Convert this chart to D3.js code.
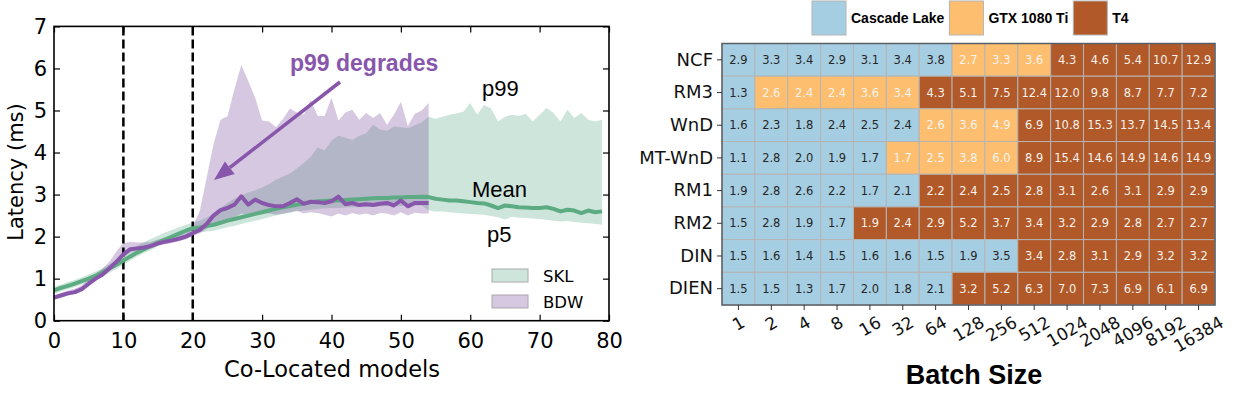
<!DOCTYPE html>
<html>
<head>
<meta charset="utf-8">
<script src="https://cdn.jsdelivr.net/npm/d3@7"></script>
<style>
body{margin:0;background:#fff;}
svg{display:block;}
</style>
</head>
<body>
<svg id="fig" width="1239" height="394"></svg>
<script>
/************************************ Data *******************************/
// left panel: latency vs number of co-located models (index = model count)
var sklMean = [0.72,0.78,0.83,0.88,0.94,1.0,1.07,1.15,1.24,1.33,1.43,1.53,1.62,1.70,1.78,1.86,1.93,2.0,2.07,2.14,
	2.2,2.22,2.25,2.28,2.33,2.38,2.42,2.46,2.5,2.54,2.58,2.62,2.66,2.7,2.73,2.76,2.79,2.82,2.84,2.85,
	2.86,2.86,2.87,2.88,2.89,2.9,2.91,2.92,2.92,2.93,2.93,2.94,2.94,2.95,2.94,2.9,2.88,2.86,2.86,2.84,
	2.82,2.8,2.79,2.74,2.68,2.74,2.72,2.7,2.69,2.68,2.68,2.7,2.66,2.6,2.64,2.62,2.56,2.62,2.58,2.6];
var sklP99 = [0.8,0.86,0.92,0.97,1.03,1.1,1.17,1.25,1.34,1.43,1.53,1.65,1.78,1.87,1.95,2.02,2.1,2.16,2.22,2.28,
	2.33,2.38,2.45,2.55,2.68,2.8,2.9,2.98,3.05,3.1,3.17,3.25,3.35,3.43,3.5,3.62,3.75,3.9,4.12,4.05,
	4.28,4.4,4.35,4.3,4.4,4.46,4.66,4.55,4.52,4.62,4.6,4.58,4.65,4.72,4.85,4.8,4.85,4.9,4.93,4.97,
	5.18,4.9,5.13,5.05,4.74,4.85,4.9,4.87,4.92,4.74,4.9,5.06,4.94,4.74,5.02,4.82,4.94,4.78,4.74,4.78];
var sklP5 = [0.64,0.7,0.75,0.8,0.86,0.92,0.98,1.06,1.14,1.23,1.33,1.43,1.53,1.61,1.69,1.77,1.84,1.91,1.98,2.04,
	2.1,2.1,2.12,2.14,2.18,2.22,2.26,2.3,2.34,2.38,2.42,2.46,2.5,2.54,2.57,2.6,2.62,2.64,2.66,2.67,
	2.68,2.68,2.69,2.7,2.7,2.71,2.72,2.72,2.73,2.73,2.73,2.74,2.74,2.74,2.62,2.6,2.6,2.58,2.57,2.55,
	2.54,2.53,2.52,2.49,2.46,2.41,2.47,2.45,2.44,2.43,2.42,2.4,2.38,2.36,2.37,2.35,2.33,2.32,2.3,2.28];
var bdwMean = [0.55,0.6,0.65,0.68,0.75,0.88,1.0,1.1,1.25,1.4,1.58,1.7,1.72,1.74,1.78,1.84,1.88,1.91,1.95,2.0,
	2.08,2.16,2.3,2.5,2.63,2.68,2.76,2.96,2.76,2.88,2.8,2.75,2.72,2.72,2.8,2.89,2.78,2.83,2.82,2.8,
	2.84,2.95,2.77,2.8,2.75,2.77,2.75,2.78,2.8,2.74,2.86,2.72,2.8,2.8,2.8];
var bdwP99 = [0.6,0.66,0.72,0.76,0.84,0.98,1.12,1.24,1.4,1.65,1.85,1.87,1.86,1.86,1.88,1.93,1.98,2.0,2.03,2.08,
	2.25,2.6,3.4,4.2,4.78,4.86,5.5,6.08,5.7,5.3,4.76,4.74,4.6,4.8,5.05,4.95,4.9,5.25,4.87,4.87,
	5.3,4.76,4.95,5.02,4.78,4.94,4.82,4.94,4.66,4.9,5.21,4.63,4.92,5.0,5.18];
var bdwP5 = [0.5,0.55,0.6,0.63,0.7,0.82,0.95,1.05,1.2,1.33,1.5,1.63,1.66,1.68,1.72,1.78,1.82,1.85,1.89,1.94,
	2.02,2.08,2.18,2.3,2.38,2.42,2.46,2.55,2.5,2.58,2.56,2.55,2.52,2.55,2.58,2.62,2.55,2.58,2.56,2.52,
	2.48,2.55,2.5,2.56,2.52,2.55,2.5,2.56,2.55,2.5,2.58,2.5,2.57,2.55,2.55];
var xTicks = [0,10,20,30,40,50,60,70,80];
var yTicks = [0,1,2,3,4,5,6,7];
var markedCounts = [10,20];

// right panel: latency (ms) per model and batch size, with the fastest platform
var batchSizes = ["1","2","4","8","16","32","64","128","256","512","1024","2048","4096","8192","16384"];
var models = ["NCF","RM3","WnD","MT-WnD","RM1","RM2","DIN","DIEN"];
var platforms = ["Cascade Lake","GTX 1080 Ti","T4"];
var latency = [
	[2.9,3.3,3.4,2.9,3.1,3.4,3.8,2.7,3.3,3.6,4.3,4.6,5.4,10.7,12.9],
	[1.3,2.6,2.4,2.4,3.6,3.4,4.3,5.1,7.5,12.4,12.0,9.8,8.7,7.7,7.2],
	[1.6,2.3,1.8,2.4,2.5,2.4,2.6,3.6,4.9,6.9,10.8,15.3,13.7,14.5,13.4],
	[1.1,2.8,2.0,1.9,1.7,1.7,2.5,3.8,6.0,8.9,15.4,14.6,14.9,14.6,14.9],
	[1.9,2.8,2.6,2.2,1.7,2.1,2.2,2.4,2.5,2.8,3.1,2.6,3.1,2.9,2.9],
	[1.5,2.8,1.9,1.7,1.9,2.4,2.9,5.2,3.7,3.4,3.2,2.9,2.8,2.7,2.7],
	[1.5,1.6,1.4,1.5,1.6,1.6,1.5,1.9,3.5,3.4,2.8,3.1,2.9,3.2,3.2],
	[1.5,1.5,1.3,1.7,2.0,1.8,2.1,3.2,5.2,6.3,7.0,7.3,6.9,6.1,6.9]
];
// 0 = Cascade Lake, 1 = GTX 1080 Ti, 2 = T4
var best = [
	[0,0,0,0,0,0,0,1,1,1,2,2,2,2,2],
	[0,1,1,1,1,1,2,2,2,2,2,2,2,2,2],
	[0,0,0,0,0,0,1,1,1,2,2,2,2,2,2],
	[0,0,0,0,0,1,1,1,1,2,2,2,2,2,2],
	[0,0,0,0,0,0,2,2,2,2,2,2,2,2,2],
	[0,0,0,0,2,2,2,2,2,2,2,2,2,2,2],
	[0,0,0,0,0,0,0,0,0,2,2,2,2,2,2],
	[0,0,0,0,0,0,0,2,2,2,2,2,2,2,2]
];

var svg = d3.select("#fig");

/************************************ Left panel *******************************/
var xL = d3.scaleLinear().domain([0,80]).range([54,609]);
var yL = d3.scaleLinear().domain([0,7]).range([320.7,26.4]);

function band(lo){
	return d3.area()
		.x(function(d,i){ return xL(i); })
		.y0(function(d,i){ return yL(lo[i]); })
		.y1(function(d){ return yL(d); });
}
var line = d3.line().x(function(d,i){ return xL(i); }).y(function(d){ return yL(d); });

svg.append("path").datum(sklP99).attr("d", band(sklP5))
	.attr("fill","#58a884").attr("fill-opacity",0.3);
svg.append("path").datum(bdwP99).attr("d", band(bdwP5))
	.attr("fill","#764898").attr("fill-opacity",0.3);

svg.selectAll("line.vmark").data(markedCounts).enter().append("line")
	.attr("class","vmark")
	.attr("x1",function(d){ return xL(d); }).attr("x2",function(d){ return xL(d); })
	.attr("y1",yL(7)).attr("y2",yL(0))
	.attr("stroke","#000").attr("stroke-width",2.5).attr("stroke-dasharray","9,4");

svg.append("path").datum(sklMean).attr("d", line)
	.attr("fill","none").attr("stroke","#5dab83").attr("stroke-width",4).attr("stroke-linejoin","round");
svg.append("path").datum(bdwMean).attr("d", line)
	.attr("fill","none").attr("stroke","#8856ab").attr("stroke-width",4).attr("stroke-linejoin","round");

// axes, ticks inside
var tickFont = "'DejaVu Sans', sans-serif";
function styleAxis(g){
	g.select(".domain").remove();
	g.selectAll(".tick line").attr("stroke","#000").attr("stroke-width",1.2);
	g.selectAll("text").attr("font-family",tickFont).attr("font-size",21).attr("fill","#000");
}
svg.append("g").attr("transform","translate(0,"+yL(0)+")")
	.call(d3.axisBottom(xL).tickValues(xTicks).tickSize(-6).tickPadding(12)).call(styleAxis);
svg.append("g").attr("transform","translate(0,"+yL(7)+")")
	.call(d3.axisTop(xL).tickValues(xTicks).tickSize(-6).tickFormat("")).call(styleAxis);
svg.append("g").attr("transform","translate("+xL(0)+",0)")
	.call(d3.axisLeft(yL).tickValues(yTicks).tickFormat(d3.format("d")).tickSize(-6).tickPadding(7)).call(styleAxis);
svg.append("g").attr("transform","translate("+xL(80)+",0)")
	.call(d3.axisRight(yL).tickValues(yTicks).tickSize(-6).tickFormat("")).call(styleAxis);
svg.append("rect").attr("x",xL(0)).attr("y",yL(7))
	.attr("width",xL(80)-xL(0)).attr("height",yL(0)-yL(7))
	.attr("fill","none").attr("stroke","#000").attr("stroke-width",1.6);

svg.append("text").attr("x",332).attr("y",377).attr("text-anchor","middle")
	.attr("font-family",tickFont).attr("font-size",22.5).text("Co-Located models");
svg.append("text").attr("transform","translate(23,172) rotate(-90)").attr("text-anchor","middle")
	.attr("font-family",tickFont).attr("font-size",21).text("Latency (ms)");

// annotations
var helv = "'Liberation Sans', Arial, sans-serif";
svg.append("text").attr("x",290).attr("y",71).attr("font-family",helv).attr("font-weight","bold")
	.attr("font-size",23).attr("fill","#8856ab").text("p99 degrades");
var a0 = [340,82], a1 = [214,180];
var ang = Math.atan2(a1[1]-a0[1], a1[0]-a0[0]), hl = 20, hw = 8;
var base = [a1[0]-hl*Math.cos(ang), a1[1]-hl*Math.sin(ang)];
svg.append("line").attr("x1",a0[0]).attr("y1",a0[1]).attr("x2",base[0]).attr("y2",base[1])
	.attr("stroke","#8856ab").attr("stroke-width",3.5);
svg.append("polygon").attr("fill","#8856ab").attr("points",[
	a1,
	[base[0]+hw*Math.sin(ang), base[1]-hw*Math.cos(ang)],
	[base[0]-hw*Math.sin(ang), base[1]+hw*Math.cos(ang)]
].map(function(p){ return p.join(","); }).join(" "));

svg.append("text").attr("x",482).attr("y",96).attr("font-family",helv).attr("font-size",22).text("p99");
svg.append("text").attr("x",472).attr("y",197).attr("font-family",helv).attr("font-size",22).text("Mean");
svg.append("text").attr("x",487).attr("y",242).attr("font-family",helv).attr("font-size",22).text("p5");

// legend
var legL = [["SKL","#58a884"],["BDW","#764898"]];
var lg = svg.selectAll("g.legL").data(legL).enter().append("g").attr("class","legL")
	.attr("transform",function(d,i){ return "translate(492,"+(269+i*26)+")"; });
lg.append("rect").attr("width",36).attr("height",13)
	.attr("fill",function(d){ return d[1]; }).attr("fill-opacity",0.3)
	.attr("stroke","#aaa").attr("stroke-width",1);
lg.append("text").attr("x",51).attr("y",12.5).attr("font-family",tickFont).attr("font-size",16.5)
	.text(function(d){ return d[0]; });

/************************************ Right panel *******************************/
var xH = d3.scaleBand().domain(batchSizes).range([722,1215]);
var yH = d3.scaleBand().domain(models).range([43.5,305]);
var colH = d3.scaleOrdinal().domain([0,1,2]).range(["#a6cee3","#fdbf6f","#b15928"]);

var cells = [];
models.forEach(function(m,r){
	batchSizes.forEach(function(b,c){
		cells.push({model:m, batch:b, v:latency[r][c], p:best[r][c]});
	});
});

svg.selectAll("rect.cell").data(cells).enter().append("rect").attr("class","cell")
	.attr("x",function(d){ return xH(d.batch); }).attr("y",function(d){ return yH(d.model); })
	.attr("width",xH.bandwidth()).attr("height",yH.bandwidth())
	.attr("fill",function(d){ return colH(d.p); })
	.attr("stroke","#b4b4b4").attr("stroke-width",1);
svg.selectAll("text.cell").data(cells).enter().append("text").attr("class","cell")
	.attr("x",function(d){ return xH(d.batch)+xH.bandwidth()/2; })
	.attr("y",function(d){ return yH(d.model)+yH.bandwidth()/2; })
	.attr("dy","0.36em").attr("text-anchor","middle")
	.attr("font-family",tickFont).attr("font-size",11.5)
	.attr("fill",function(d){ return d.p===0 ? "#262626" : "#f6f1ec"; })
	.text(function(d){ return d.v.toFixed(1); });
svg.append("rect").attr("x",722).attr("y",43.5).attr("width",1215-722).attr("height",305-43.5)
	.attr("fill","none").attr("stroke","#5a5f66").attr("stroke-width",1.5);

// row labels
var gy = svg.append("g").attr("transform","translate(722,0)")
	.call(d3.axisLeft(yH).tickSize(5).tickPadding(4));
gy.select(".domain").remove();
gy.selectAll(".tick line").attr("stroke","#333").attr("stroke-width",1);
gy.selectAll("text").attr("font-family",tickFont).attr("font-size",18).attr("fill","#111");

// column labels, rotated, box top-aligned under each tick
var gxH = svg.append("g").attr("transform","translate(0,305)")
	.call(d3.axisBottom(xH).tickSize(5).tickFormat(""));
gxH.select(".domain").remove();
gxH.selectAll(".tick line").attr("stroke","#333").attr("stroke-width",1);
var xl = svg.selectAll("text.xlab").data(batchSizes).enter().append("text").attr("class","xlab")
	.attr("font-family",tickFont).attr("font-size",17).attr("fill","#111")
	.attr("text-anchor","middle").attr("dominant-baseline","central")
	.text(function(d){ return d; });
xl.each(function(d){
	var w = this.getComputedTextLength(), h = 13;
	var H = w*0.5 + h*0.866;
	var cx = xH(d)+xH.bandwidth()/2;
	d3.select(this).attr("transform","translate("+cx+","+(315+H/2)+") rotate(-30)");
});
svg.append("text").attr("x",974).attr("y",384).attr("text-anchor","middle")
	.attr("font-family",helv).attr("font-weight","bold").attr("font-size",27).text("Batch Size");

// platform legend
var lx = 812;
platforms.forEach(function(p,i){
	svg.append("rect").attr("x",lx).attr("y",1).attr("width",34).attr("height",34)
		.attr("fill",colH(i)).attr("stroke","#b4b4b4").attr("stroke-width",1);
	var t = svg.append("text").attr("x",lx+39).attr("y",23).attr("font-family",helv)
		.attr("font-weight","bold").attr("font-size",14).text(p);
	lx = lx + 39 + t.node().getComputedTextLength() + 5;
});
</script>
</body>
</html>
